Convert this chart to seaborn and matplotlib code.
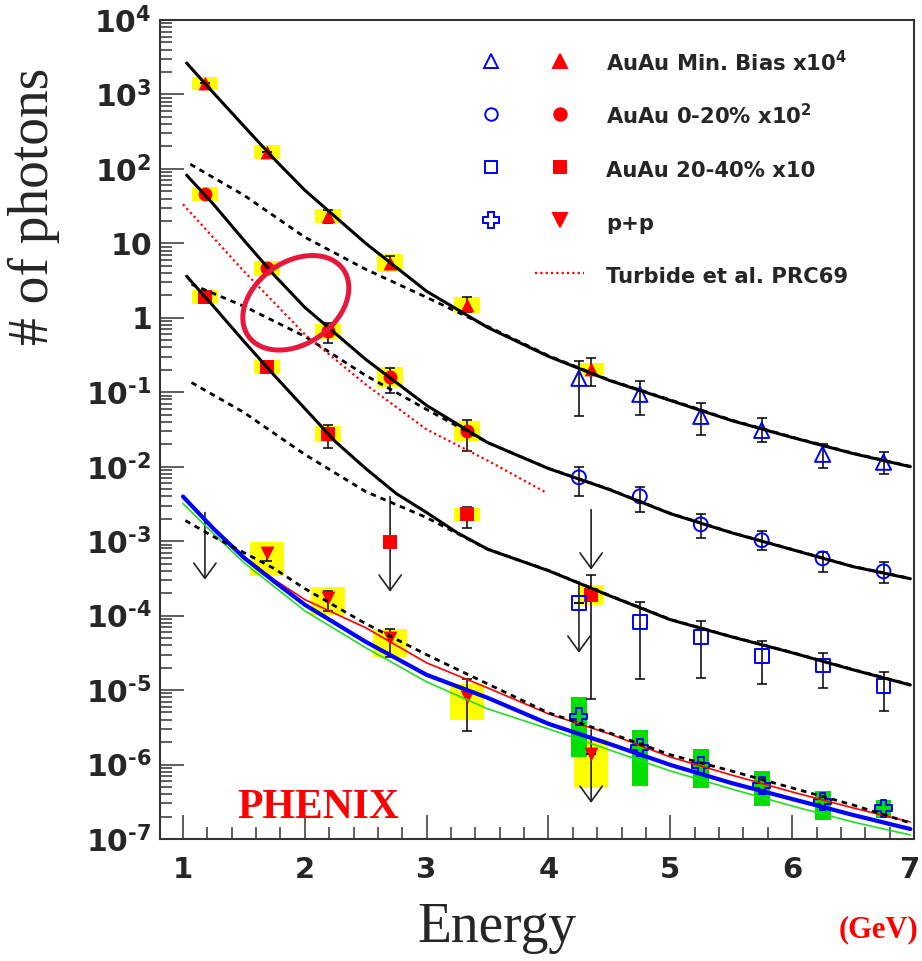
import numpy as np
import matplotlib
matplotlib.use("Agg")
import matplotlib.pyplot as plt
import seaborn as sns
from matplotlib.lines import Line2D
from matplotlib.patches import Ellipse
from matplotlib.legend_handler import HandlerTuple
from matplotlib.ticker import MultipleLocator, LogLocator, NullFormatter
from matplotlib.transforms import ScaledTranslation

# ================= DATA =================
# theory curves, AuAu
grid_x = [1.03, 1.25, 1.5, 1.75, 2.0, 2.5, 3.0, 3.5, 4.0, 4.5, 5.0, 5.5, 6.0, 6.5, 6.97]
mb_curve = [2640, 1050, 375, 135, 51.7, 10.0, 2.27, 0.743, 0.303, 0.144, 0.0776, 0.0418, 0.0247, 0.0150, 0.0100]
c020_curve = [82.3, 33.5, 11.0, 3.72, 1.38, 0.276, 0.0665, 0.0211, 0.00944, 0.00493, 0.00234, 0.00130,
              0.000769, 0.000454, 0.000313]
c2040_x = [1.03, 1.25, 1.5, 1.75, 2.0, 2.25, 2.5, 2.75, 3.0, 3.25, 3.5, 4.0, 4.5, 5.0, 5.5, 6.0, 6.5, 6.97]
c2040_curve = [3.61, 1.43, 0.482, 0.168, 0.0605, 0.0218, 0.00944, 0.00436, 0.00242, 0.0013, 7.8e-4,
               4.01e-4, 1.85e-4, 8.81e-5, 5.20e-5, 3.17e-5, 1.87e-5, 1.17e-5]

mb_dash_x = [1.06, 1.5, 2.0, 2.5, 3.0, 3.5, 4.0, 4.5, 5.0, 5.5, 6.0, 6.5, 6.97]
mb_dash = [115.6, 44.3, 12.1, 4.48, 1.88, 0.767, 0.31, 0.146, 0.079, 0.0425, 0.025, 0.0152, 0.0101]
c020_dash_x = [1.07, 1.5, 2.0, 2.5, 3.0, 3.5, 4.0, 4.5, 5.0, 5.5, 6.0, 6.5, 6.97]
c020_dash = [2.82, 1.43, 0.563, 0.168, 0.0587, 0.0211, 0.0095, 0.00497, 0.00236, 0.00131, 0.000775,
             0.000458, 0.000316]
c2040_dash_x = [1.07, 1.5, 2.0, 2.5, 3.0, 3.5, 4.0, 4.5, 5.0, 5.5, 6.0, 6.5, 6.97]
c2040_dash = [0.135, 0.0535, 0.0146, 0.00463, 0.00207, 7.8e-4, 4.04e-4, 1.87e-4, 8.9e-5, 5.25e-5,
              3.2e-5, 1.89e-5, 1.18e-5]

turbide_x = [1.0, 1.5, 2.0, 2.5, 3.0, 3.5, 3.98]
turbide = [33.5, 4.21, 0.599, 0.127, 0.0316, 0.0121, 0.00449]

# theory curves, p+p
pp_x = [1.0, 1.25, 1.5, 1.75, 2.0, 2.5, 3.0, 3.5, 4.0, 4.5, 5.0, 5.5, 6.0, 6.5, 6.97]
pp_blue = [3.97e-3, 1.47e-3, 6.0e-4, 2.86e-4, 1.40e-4, 4.45e-5, 1.60e-5, 7.87e-6, 3.52e-6, 1.89e-6,
           9.88e-7, 5.65e-7, 3.44e-7, 2.10e-7, 1.36e-7]
pp_green = [3.20e-3, 1.26e-3, 5.14e-4, 2.44e-4, 1.16e-4, 3.70e-5, 1.29e-5, 5.60e-6, 3.01e-6, 1.57e-6,
            8.20e-7, 4.70e-7, 2.77e-7, 1.69e-7, 1.13e-7]
pp_red = [3.97e-3, 1.47e-3, 6.19e-4, 3.03e-4, 1.64e-4, 6.87e-5, 2.32e-5, 1.07e-5, 4.79e-6, 2.58e-6,
          1.26e-6, 7.24e-7, 4.28e-7, 2.61e-7, 1.69e-7]
pp_dash_x = [1.02, 1.25, 1.5, 1.75, 2.0, 2.5, 3.0, 3.5, 4.0, 4.5, 5.0, 5.5, 6.0, 6.5, 6.97]
pp_dash = [1.89e-3, 1.15e-3, 7.01e-4, 4.27e-4, 2.30e-4, 7.78e-5, 2.98e-5, 1.21e-5, 4.94e-6, 2.66e-6,
           1.35e-6, 8.20e-7, 4.84e-7, 2.86e-7, 1.64e-7]

# red points (real photons, internal conversion)
mb_x = [1.18, 1.69, 2.19, 2.70, 3.33, 4.35]
mb_y = [1420, 168, 23.2, 5.4, 1.48, 0.204]
mb_lo = [1420, 168, 18.6, 4.62, 1.18, 0.120]
mb_hi = [1420, 168, 27.9, 6.70, 1.88, 0.285]
mb_sys = [0.22, 0.24, 0.25, 0.32, 0.28, 0.20]

c020_x = [1.18, 1.69, 2.19, 2.70, 3.33]
c020_y = [45.8, 4.64, 0.66, 0.159, 0.030]
c020_lo = [45.8, 4.64, 0.453, 0.0964, 0.0165]
c020_hi = [45.8, 4.64, 0.841, 0.209, 0.0418]
c020_sys = [0.24, 0.26, 0.26, 0.36, 0.36]

c2040_px = [1.18, 1.69, 2.19, 3.33, 4.35]
c2040_y = [1.89, 0.217, 0.0272, 0.00228, 1.87e-4]
c2040_lo = [1.89, 0.217, 0.0181, 0.00152, 7.62e-6]
c2040_hi = [1.89, 0.217, 0.0358, 0.00291, 3.55e-4]
c2040_sys = [0.24, 0.24, 0.28, 0.22, 0.36]
c2040_lim_x = [2.70]
c2040_lim_y = [9.86e-4]

pp_pts_x = [1.69, 2.19, 2.70, 3.33, 4.35]
pp_pts_y = [7.01e-4, 1.74e-4, 5.04e-5, 8.11e-6, 1.39e-6]
pp_pts_lo = [5.47e-4, 1.16e-4, 2.80e-5, 2.78e-6, 1.39e-6]
pp_pts_hi = [8.18e-4, 2.16e-4, 6.67e-5, 1.39e-5, 1.39e-6]
pp_box_lo = [3.44e-4, 1.03e-4, 2.80e-5, 3.9e-6, 4.8e-7]
pp_box_hi = [9.86e-4, 2.44e-4, 6.67e-5, 1.19e-5, 2.17e-6]

# blue points (real photons, calorimeter)
hi_x = [4.25, 4.75, 5.25, 5.75, 6.25, 6.75]
mbE_y = [0.154, 0.094, 0.0475, 0.0308, 0.0147, 0.0115]
mbE_lo = [0.0475, 0.049, 0.0264, 0.0213, 0.0095, 0.0081]
mbE_hi = [0.261, 0.141, 0.071, 0.0448, 0.020, 0.0156]
c020E_y = [0.0072, 0.0040, 0.00168, 0.00103, 0.000587, 0.000393]
c020E_lo = [0.0041, 0.0025, 0.0011, 0.00075, 0.00038, 0.00027]
c020E_hi = [0.0098, 0.0053, 0.0023, 0.00135, 0.00071, 0.00052]
c2040E_y = [1.46e-4, 8.1e-5, 5.1e-5, 2.83e-5, 2.14e-5, 1.12e-5]
c2040E_lo = [1.46e-4, 1.39e-5, 1.43e-5, 1.19e-5, 1.08e-5, 5.3e-6]
c2040E_hi = [1.46e-4, 1.5e-4, 8.4e-5, 4.5e-5, 3.1e-5, 1.73e-5]
ppE_y = [4.4e-6, 1.69e-6, 9.7e-7, 5.2e-7, 3.2e-7, 2.6e-7]
ppE_box_lo = [1.28e-6, 5.1e-7, 4.8e-7, 2.8e-7, 1.8e-7, 1.9e-7]
ppE_box_hi = [8.0e-6, 2.9e-6, 1.6e-6, 8.1e-7, 4.4e-7, 3.3e-7]

# upper limits (arrows)
lim_x = [1.18, 2.70, 4.25, 4.35, 4.35]
lim_top = [2.42e-3, 3.97e-3, 2.86e-4, 2.65e-3, 2.92e-6]
lim_bot = [3.03e-4, 2.09e-4, 3.17e-5, 4.14e-4, 3.05e-7]

# highlighted region (ellipse centre)
ring_x, ring_y = 1.926, 1.59

HY = '\u2010'  # short hyphen for the exponents
y_ticks = [1e-7, 1e-6, 1e-5, 1e-4, 1e-3, 1e-2, 1e-1, 1, 10, 1e2, 1e3, 1e4]
y_ticklabels = [r'$\mathbf{10^{' + HY + r'7}}$', r'$\mathbf{10^{' + HY + r'6}}$',
                r'$\mathbf{10^{' + HY + r'5}}$', r'$\mathbf{10^{' + HY + r'4}}$',
                r'$\mathbf{10^{' + HY + r'3}}$', r'$\mathbf{10^{' + HY + r'2}}$',
                r'$\mathbf{10^{' + HY + r'1}}$', r'$\mathbf{1}$', r'$\mathbf{10}$',
                r'$\mathbf{10^{2}}$', r'$\mathbf{10^{3}}$', r'$\mathbf{10^{4}}$']
x_ticks = [1, 2, 3, 4, 5, 6, 7]

legend_labels = [r'AuAu Min. Bias x10$^{\mathbf{4}}$', r'AuAu 0-20% x10$^{\mathbf{2}}$',
                 'AuAu 20-40% x10', 'p+p', 'Turbide et al. PRC69']

# ================= STYLE =================
sns.set_style("ticks")
plt.rcParams['font.family'] = ['DejaVu Sans']
plt.rcParams['mathtext.fontset'] = 'dejavusans'

YELLOW = '#ffff00'
GREEN = '#00e000'
BLUE = '#0000ff'
RED = '#ff0000'


def sys_box(ax, xs, lo, hi, width, color):
    lo = np.asarray(lo)
    hi = np.asarray(hi)
    ax.bar(xs, hi - lo, bottom=lo, width=width, color=color, linewidth=0, zorder=1)


def err(ax, xs, ys, lo, hi):
    ys = np.asarray(ys)
    yerr = [ys - np.asarray(lo), np.asarray(hi) - ys]
    ax.errorbar(xs, ys, yerr=yerr, fmt='none', ecolor='black', elinewidth=1.1,
                capsize=3.6, capthick=1.1, zorder=3)


def pts(ax, xs, ys, marker, size, color, filled=True):
    sns.scatterplot(x=xs, y=ys, ax=ax, marker=marker, s=size, color=color,
                    linewidth=0 if filled else 1.4, edgecolor=color, legend=False, zorder=4)
    if not filled:
        ax.collections[-1].set_facecolor('none')


def curve(ax, xs, ys, color='black', lw=2.2, ls='-'):
    sns.lineplot(x=xs, y=ys, ax=ax, color=color, linewidth=lw, linestyle=ls,
                 sort=False, estimator=None, zorder=5)


fig = plt.figure(figsize=(9.22, 9.61), dpi=100)
ax = fig.add_axes([0.1735, 0.127, 0.8178, 0.8522])
ax.set_yscale('log')

# systematic boxes
mb_y_a = np.asarray(mb_y); mb_s = np.asarray(mb_sys)
sys_box(ax, mb_x, mb_y_a / (1 + mb_s), mb_y_a * (1 + mb_s), 0.21, YELLOW)
c0 = np.asarray(c020_y); c0s = np.asarray(c020_sys)
sys_box(ax, c020_x, c0 / (1 + c0s), c0 * (1 + c0s), 0.21, YELLOW)
c2 = np.asarray(c2040_y); c2s = np.asarray(c2040_sys)
sys_box(ax, c2040_px, c2 / (1 + c2s), c2 * (1 + c2s), 0.21, YELLOW)
sys_box(ax, pp_pts_x, pp_box_lo, pp_box_hi, 0.28, YELLOW)
sys_box(ax, hi_x, ppE_box_lo, ppE_box_hi, 0.13, GREEN)

# theory curves
dash = (0, (2.0, 1.8))
curve(ax, grid_x, mb_curve)
curve(ax, mb_dash_x, mb_dash, ls=dash, lw=2.0)
curve(ax, grid_x, c020_curve)
curve(ax, c020_dash_x, c020_dash, ls=dash, lw=2.0)
curve(ax, c2040_x, c2040_curve)
curve(ax, c2040_dash_x, c2040_dash, ls=dash, lw=2.0)
curve(ax, turbide_x, turbide, color=RED, lw=1.6, ls=(0, (1.0, 1.4)))
curve(ax, pp_x, pp_green, color='#22dd22', lw=1.2)
curve(ax, pp_x, pp_red, color=RED, lw=1.2)
curve(ax, pp_x, pp_blue, color=BLUE, lw=3.0)
curve(ax, pp_dash_x, pp_dash, ls=dash, lw=2.0)

# error bars
err(ax, mb_x, mb_y, mb_lo, mb_hi)
err(ax, c020_x, c020_y, c020_lo, c020_hi)
err(ax, c2040_px, c2040_y, c2040_lo, c2040_hi)
err(ax, pp_pts_x, pp_pts_y, pp_pts_lo, pp_pts_hi)
err(ax, hi_x, mbE_y, mbE_lo, mbE_hi)
err(ax, hi_x, c020E_y, c020E_lo, c020E_hi)
err(ax, hi_x, c2040E_y, c2040E_lo, c2040E_hi)

# upper-limit arrows
for x, top, bot in zip(lim_x, lim_top, lim_bot):
    ax.annotate('', xy=(x, bot), xytext=(x, top),
                arrowprops=dict(arrowstyle='->,head_length=0.55,head_width=0.4', color='#222222',
                                lw=1.2, shrinkA=0, shrinkB=0, mutation_scale=20), zorder=3)

# markers
pts(ax, mb_x, mb_y, '^', 100, RED)
pts(ax, c020_x, c020_y, 'o', 100, RED)
pts(ax, c2040_px, c2040_y, 's', 100, RED)
pts(ax, c2040_lim_x, c2040_lim_y, 's', 100, RED)
pts(ax, pp_pts_x, pp_pts_y, 'v', 100, RED)
pts(ax, hi_x, mbE_y, '^', 120, BLUE, filled=False)
pts(ax, hi_x, c020E_y, 'o', 100, BLUE, filled=False)
pts(ax, hi_x, c2040E_y, 's', 100, BLUE, filled=False)
pts(ax, hi_x, ppE_y, 'P', 150, BLUE, filled=False)

# highlighted ring
ring_tr = fig.dpi_scale_trans + ScaledTranslation(ring_x, ring_y, ax.transData)
ax.add_patch(Ellipse((0, 0), 1.16, 0.82, angle=35, transform=ring_tr, fill=False,
                     edgecolor='#e8173c', linewidth=3.6, zorder=6))

# axes
ax.set_xlim(0.811, 7.0)
ax.set_ylim(1e-7, 1e4)
ax.set_xticks(x_ticks, [str(t) for t in x_ticks], fontsize=21, fontweight='bold')
ax.xaxis.set_minor_locator(MultipleLocator(0.2))
ax.set_yticks(y_ticks, y_ticklabels, fontsize=21.5)
ax.yaxis.set_minor_locator(LogLocator(base=10, subs=np.arange(2, 10) * 1.0, numticks=100))
ax.yaxis.set_minor_formatter(NullFormatter())
ax.tick_params(which='both', direction='in', color='#333333', width=1.1, top=False, right=False)
ax.tick_params(which='major', length=17)
ax.tick_params(which='minor', length=8.5)
ax.tick_params(axis='x', pad=12)
ax.tick_params(axis='y', pad=6)
for sp in ax.spines.values():
    sp.set_linewidth(1.5)
    sp.set_color('#333333')
ax.set_xlabel('')
ax.set_ylabel('')
ax.grid(False)
# the "7" sits right on the figure edge: nudge it a little to the left
last = ax.get_xticklabels()[-1]
last.set_transform(last.get_transform() + ScaledTranslation(-4 / 100, 0, fig.dpi_scale_trans))

# legend
def mk(marker, filled, color, ms=10):
    return Line2D([], [], ls='none', marker=marker, ms=ms, mew=1.4,
                  mfc=color if filled else 'none', mec=color)

handles = [
    (mk('^', False, BLUE), mk('^', True, RED)),
    (mk('o', False, BLUE, 9), mk('o', True, RED, 9)),
    (mk('s', False, BLUE, 9), mk('s', True, RED, 9)),
    (mk('P', False, BLUE, 11), mk('v', True, RED)),
    (Line2D([], [], ls='none'), Line2D([], [], color=RED, ls=(0, (1.0, 1.4)), lw=1.6)),
]
ax.legend(handles, legend_labels, handler_map={tuple: HandlerTuple(ndivide=None, pad=0.92)},
          loc='upper left', bbox_to_anchor=(0.407, 0.9635), frameon=False, borderpad=0,
          borderaxespad=0, handlelength=5.55, handleheight=1.65, handletextpad=1.05,
          labelspacing=1.19,
          prop={'family': 'DejaVu Sans', 'weight': 'bold', 'size': 15.2})

# texts
ax.text(0.2095, 0.038, 'PHENIX', transform=ax.transAxes, color=RED, fontsize=30,
        family='Liberation Serif', fontweight='bold', ha='center', va='center')
fig.text(34 / 922, 1 - 206 / 961, '# of photons', rotation=90, fontsize=40,
         family='Liberation Serif', ha='center', va='center')
fig.text(497 / 922, 1 - 928 / 961, 'Energy', fontsize=40, family='Liberation Serif',
         ha='center', va='center')
fig.text(918 / 922, 1 - 930 / 961, '(GeV)', color=RED, fontsize=22, family='Liberation Serif',
         fontweight='bold', ha='right', va='center')

fig.savefig('out.png', dpi=100)
